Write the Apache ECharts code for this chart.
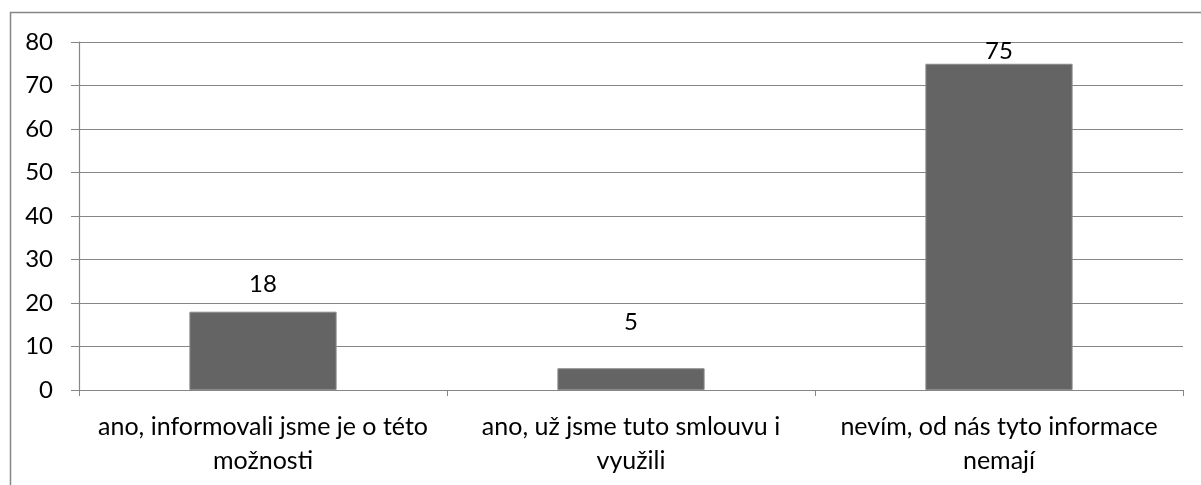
<!DOCTYPE html>
<html>
<head>
<meta charset="utf-8">
<script src="https://cdn.jsdelivr.net/npm/echarts@6/dist/echarts.min.js"></script>
<style>html,body{margin:0;padding:0;background:#fff}#c{width:1201px;height:485px}</style>
</head>
<body>
<div id="c"></div>
<script>
const categories = ["ano, informovali jsme je o této\nmožnosti", "ano, už jsme tuto smlouvu i\nvyužili", "nevím, od nás tyto informace\nnemají"];
const values = [18, 5, 75];
const labelGaps = [15, 34, 0];
const yTicks = { min: 0, max: 80, interval: 10 };

const chart = echarts.init(document.getElementById('c'));
const FONT = 'Lato';
chart.setOption({
  animation: false,
  graphic: [{
    type: 'rect', shape: { x: 10.5, y: 12.5, width: 1220, height: 500 },
    style: { fill: 'none', stroke: '#868686', lineWidth: 1.5 }, silent: true
  }],
  grid: { left: 79, right: 18, top: 42, bottom: 95 },
  xAxis: {
    type: 'category', data: categories,
    axisLine: { lineStyle: { color: '#868686', width: 1.2 } },
    axisTick: { show: true, length: 6, lineStyle: { color: '#868686' } },
    axisLabel: { color: '#000', fontFamily: FONT, fontSize: 25, lineHeight: 34, margin: 20, interval: 0 }
  },
  yAxis: {
    type: 'value', min: yTicks.min, max: yTicks.max, interval: yTicks.interval,
    axisLine: { show: true, lineStyle: { color: '#868686', width: 1.2 } },
    axisTick: { show: true, length: 8, lineStyle: { color: '#868686' } },
    splitLine: { lineStyle: { color: '#868686', width: 1.2 } },
    axisLabel: { color: '#000', fontFamily: FONT, fontSize: 24, margin: 26 }
  },
  series: [{
    type: 'bar', barCategoryGap: '60%',
    itemStyle: { color: '#646464', borderColor: '#8a8a8a', borderWidth: 1 },
    data: values.map((v, i) => ({ value: v, label: { distance: labelGaps[i] } })),
    label: { show: true, position: 'top', color: '#000', fontFamily: FONT, fontSize: 24 }
  }]
});
</script>
</body>
</html>
